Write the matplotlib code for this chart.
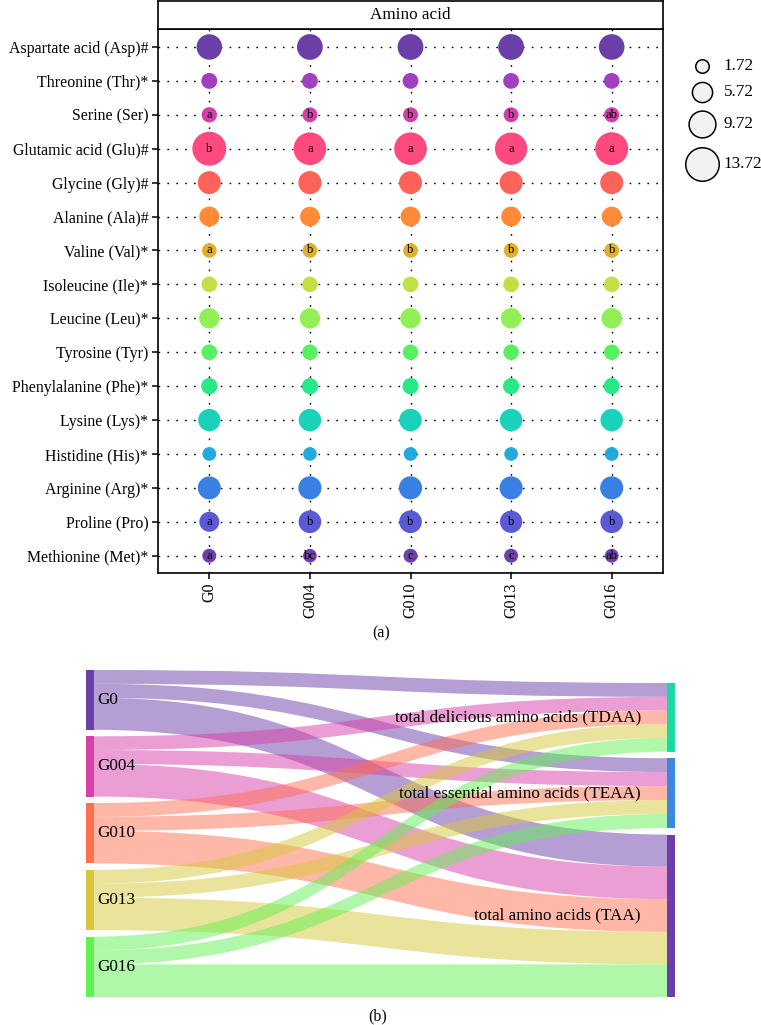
import matplotlib
matplotlib.use("Agg")
import matplotlib.pyplot as plt
from matplotlib.path import Path
from matplotlib.patches import PathPatch, Rectangle

plt.rcParams["font.family"] = ["Liberation Serif", "DejaVu Serif"]

# ---- panel (a): amino acid content bubbles ----
GROUPS = ["G0", "G004", "G010", "G013", "G016"]
AMINO = [
    "Aspartate acid (Asp)#", "Threonine (Thr)*", "Serine (Ser)", "Glutamic acid (Glu)#",
    "Glycine (Gly)#", "Alanine (Ala)#", "Valine (Val)*", "Isoleucine (Ile)*",
    "Leucine (Leu)*", "Tyrosine (Tyr)", "Phenylalanine (Phe)*", "Lysine (Lys)*",
    "Histidine (His)*", "Arginine (Arg)*", "Proline (Pro)", "Methionine (Met)*",
]
AMINO_COLORS = [
    "#6b3fa8", "#a03fc0", "#d040a8", "#ff4a80", "#ff6258", "#ff8a38", "#e0b02c", "#c2e046",
    "#90f056", "#56f060", "#28e888", "#1ad2ba", "#22aadc", "#3a80e2", "#5a5ad6", "#6e40aa",
]

G0_VALS = [8.9, 3.2, 2.8, 14.0, 7.4, 5.6, 2.4, 3.0, 5.8, 3.0, 3.4, 7.0, 1.9, 7.4, 5.6, 2.0]
G004_VALS = [9.1, 3.1, 2.6, 13.2, 7.5, 5.4, 2.5, 3.0, 5.8, 2.9, 3.3, 7.1, 1.8, 7.5, 7.2, 1.8]
G010_VALS = [9.1, 3.1, 2.6, 13.2, 7.4, 5.5, 2.5, 3.0, 5.9, 2.9, 3.3, 7.1, 1.8, 7.5, 7.2, 2.0]
G013_VALS = [9.1, 3.1, 2.6, 13.0, 7.5, 5.5, 2.5, 3.0, 5.9, 2.9, 3.3, 7.1, 1.8, 7.5, 7.0, 2.0]
G016_VALS = [9.0, 3.1, 2.7, 13.4, 7.4, 5.5, 2.5, 3.0, 5.9, 2.9, 3.3, 7.1, 1.9, 7.5, 7.2, 1.9]

G0_SIG = ["", "", "a", "b", "", "", "a", "", "", "", "", "", "", "", "a", "a"]
G004_SIG = ["", "", "b", "a", "", "", "b", "", "", "", "", "", "", "", "b", "bc"]
G010_SIG = ["", "", "b", "a", "", "", "b", "", "", "", "", "", "", "", "b", "c"]
G013_SIG = ["", "", "b", "a", "", "", "b", "", "", "", "", "", "", "", "b", "c"]
G016_SIG = ["", "", "ab", "a", "", "", "b", "", "", "", "", "", "", "", "b", "ab"]

LEGEND_BREAKS = [1.72, 5.72, 9.72, 13.72]

# ---- panel (b): sankey ----
SANKEY_TARGETS = ["total delicious amino acids (TDAA)",
                  "total essential amino acids (TEAA)",
                  "total amino acids (TAA)"]
TDAA = [35.9, 35.6, 35.7, 35.5, 35.8]
TEAA = [36.1, 36.3, 36.4, 36.3, 36.4]
TAA = [83.4, 84.6, 84.8, 84.5, 84.7]
GROUP_COLORS = ["#6a3fa8", "#d83fa8", "#ff7050", "#d6c83a", "#62f054"]
TARGET_COLORS = ["#1cd8a4", "#3a88e0", "#6a3fa8"]

FS = 12.3


def bubble_px(v):
    return 13.5 + (v - 1.72) * 20.0 / 12.0


def bubble_s(v):
    return (bubble_px(v) * 0.72) ** 2


W, H = 761, 1025
fig = plt.figure(figsize=(W / 100, H / 100), dpi=100)

ax = fig.add_axes([158 / W, 1 - 573 / H, 505 / W, 544 / H])
n = len(AMINO)
ypos = [n - i for i in range(n)]
all_vals = [G0_VALS, G004_VALS, G010_VALS, G013_VALS, G016_VALS]
all_sig = [G0_SIG, G004_SIG, G010_SIG, G013_SIG, G016_SIG]
for gi, (vals, sig) in enumerate(zip(all_vals, all_sig)):
    x = gi + 1
    ax.scatter([x] * n, ypos, s=[bubble_s(v) for v in vals], c=AMINO_COLORS,
               linewidths=0, zorder=3)
    for y, lab in zip(ypos, sig):
        if lab:
            ax.text(x, y, lab, ha="center", va="center", fontsize=9, zorder=4)

ax.set_xlim(0.49, 5.51)
ax.set_ylim(0.49, n + 0.53)
ax.set_xticks(range(1, 6))
ax.set_xticklabels(GROUPS, rotation=90, fontsize=11.5)
ax.set_yticks(ypos)
ax.set_yticklabels(AMINO, fontsize=11.4)
ax.grid(True, color="black", linestyle=(0, (1.2, 5.2)), linewidth=1.0, zorder=0)
ax.set_axisbelow(True)
ax.tick_params(direction="out", length=4, width=1.1, pad=3, colors="black")
for sp in ax.spines.values():
    sp.set_linewidth(1.2)

strip = fig.add_axes([158 / W, 1 - 29 / H, 505 / W, 28 / H])
strip.set_xticks([])
strip.set_yticks([])
for sp in strip.spines.values():
    sp.set_linewidth(1.2)
strip.text(0.5, 0.5, "Amino acid", ha="center", va="center", fontsize=FS,
           transform=strip.transAxes)

# overlay in pixel coordinates for legend, sankey and captions
ov = fig.add_axes([0, 0, 1, 1])
ov.set_xlim(0, W)
ov.set_ylim(H, 0)
ov.axis("off")
ov.patch.set_alpha(0)

ly = 66.0
prev = None
for b in LEGEND_BREAKS:
    d = bubble_px(b)
    if prev is not None:
        ly += (prev + d) / 2 + 9
    ov.scatter([702], [ly], s=bubble_s(b), facecolor="#f2f2f2", edgecolor="black",
               linewidths=1.1, zorder=3)
    ov.text(724, ly, f"{b:.2f}", ha="left", va="center", fontsize=FS)
    prev = d

ov.text(381, 633, "(a)", ha="center", va="center", fontsize=11.5)
ov.text(378, 1016, "(b)", ha="center", va="center", fontsize=11.5)

# sankey layout
LEFT_X, RIGHT_X, NODE_W = 86, 667, 8
TOP, BOTTOM, GAP = 670, 997, 6.5
flows = [TDAA, TEAA, TAA]
grp_tot = [sum(f[i] for f in flows) for i in range(len(GROUPS))]
tgt_tot = [sum(f) for f in flows]
scale = (BOTTOM - TOP - (len(GROUPS) - 1) * GAP) / sum(grp_tot)

src_y = []
y = TOP
for gt in grp_tot:
    src_y.append(y)
    y += gt * scale + GAP
tgt_y = []
y = BOTTOM
for tt in reversed(tgt_tot):
    y -= tt * scale
    tgt_y.insert(0, y)
    y -= GAP

x0, x1 = LEFT_X + NODE_W, RIGHT_X
xm = (x0 + x1) / 2
tgt_off = list(tgt_y)
for gi in range(len(GROUPS)):
    sy = src_y[gi]
    for ti in range(len(flows)):
        w = flows[ti][gi] * scale
        ty = tgt_off[ti]
        verts = [(x0, sy), (xm, sy), (xm, ty), (x1, ty),
                 (x1, ty + w), (xm, ty + w), (xm, sy + w), (x0, sy + w), (x0, sy)]
        codes = [Path.MOVETO, Path.CURVE4, Path.CURVE4, Path.CURVE4,
                 Path.LINETO, Path.CURVE4, Path.CURVE4, Path.CURVE4, Path.CLOSEPOLY]
        ov.add_patch(PathPatch(Path(verts, codes), facecolor=GROUP_COLORS[gi],
                               alpha=0.5, edgecolor="none", zorder=1))
        sy += w
        tgt_off[ti] += w

for gi, g in enumerate(GROUPS):
    h = grp_tot[gi] * scale
    ov.add_patch(Rectangle((LEFT_X, src_y[gi]), NODE_W, h, facecolor=GROUP_COLORS[gi],
                           edgecolor="none", zorder=2))
    ov.text(x0 + 3, src_y[gi] + h / 2, g, ha="left", va="center", fontsize=FS, zorder=5)

for ti, t in enumerate(SANKEY_TARGETS):
    h = tgt_tot[ti] * scale
    ov.add_patch(Rectangle((RIGHT_X, tgt_y[ti]), NODE_W, h, facecolor=TARGET_COLORS[ti],
                           edgecolor="none", zorder=2))
    ov.text(RIGHT_X - 26, tgt_y[ti] + h / 2, t, ha="right", va="center", fontsize=FS,
            zorder=5)

fig.savefig("out.png", dpi=100)
